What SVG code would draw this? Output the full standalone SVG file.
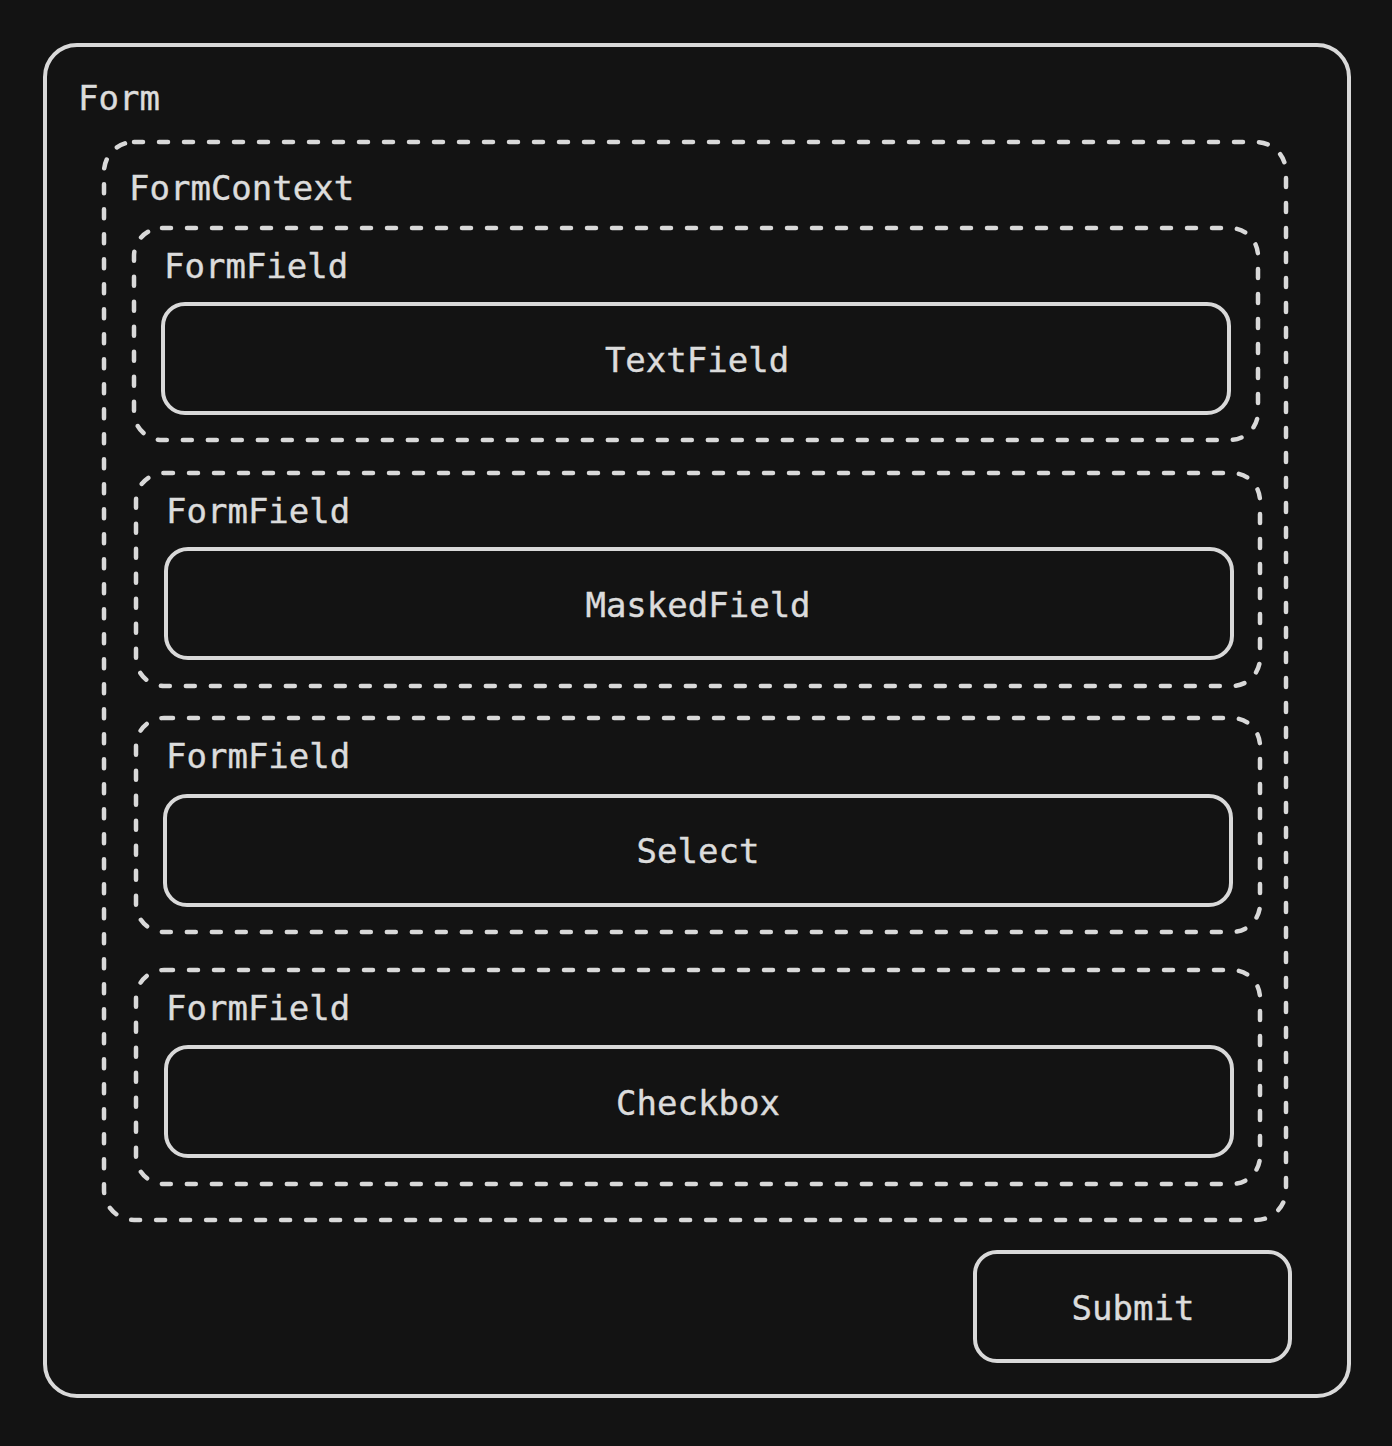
<svg xmlns="http://www.w3.org/2000/svg" width="1392" height="1446" viewBox="0 0 1392 1446">
<style>
.solid{fill:none;stroke:#d9d9d9;stroke-width:4}
.dash{fill:none;stroke:#d9d9d9;stroke-width:4.5;stroke-dasharray:9 16;stroke-linecap:round}
.lbl{font-family:"DejaVu Sans Mono","Liberation Mono",monospace;font-size:34px;fill:#dcdcdc;stroke:#dcdcdc;stroke-width:0.4}
.ctr{text-anchor:middle}
</style>
<rect width="1392" height="1446" fill="#131313"/>
<g id="form">
<rect class="solid" x="45" y="45" width="1304" height="1351" rx="32"/>
<text class="lbl" x="78" y="110">Form</text>
</g>
<g id="formcontext">
<rect class="dash" x="104" y="142" width="1182" height="1078" rx="30"/>
<text class="lbl" x="129" y="200">FormContext</text>
</g>
<g id="formfield1">
<rect class="dash" x="134" y="228" width="1124" height="212" rx="28"/>
<text class="lbl" x="164" y="278">FormField</text>
</g>
<g id="textfield">
<rect class="solid" x="163" y="304" width="1066" height="109" rx="22"/>
<text class="lbl ctr" x="697" y="372">TextField</text>
</g>
<g id="formfield2">
<rect class="dash" x="136" y="473" width="1124" height="213" rx="28"/>
<text class="lbl" x="166" y="523">FormField</text>
</g>
<g id="maskedfield">
<rect class="solid" x="166" y="549" width="1066" height="109" rx="22"/>
<text class="lbl ctr" x="698" y="617">MaskedField</text>
</g>
<g id="formfield3">
<rect class="dash" x="136" y="718" width="1124" height="214" rx="28"/>
<text class="lbl" x="166" y="768">FormField</text>
</g>
<g id="select">
<rect class="solid" x="165" y="796" width="1066" height="109" rx="22"/>
<text class="lbl ctr" x="698" y="863">Select</text>
</g>
<g id="formfield4">
<rect class="dash" x="136" y="970" width="1124" height="214" rx="28"/>
<text class="lbl" x="166" y="1020">FormField</text>
</g>
<g id="checkbox">
<rect class="solid" x="166" y="1047" width="1066" height="109" rx="22"/>
<text class="lbl ctr" x="698" y="1115">Checkbox</text>
</g>
<g id="submit">
<rect class="solid" x="975" y="1252" width="315" height="109" rx="22"/>
<text class="lbl ctr" x="1133" y="1320">Submit</text>
</g>
<g id="connectors"></g>
</svg>
